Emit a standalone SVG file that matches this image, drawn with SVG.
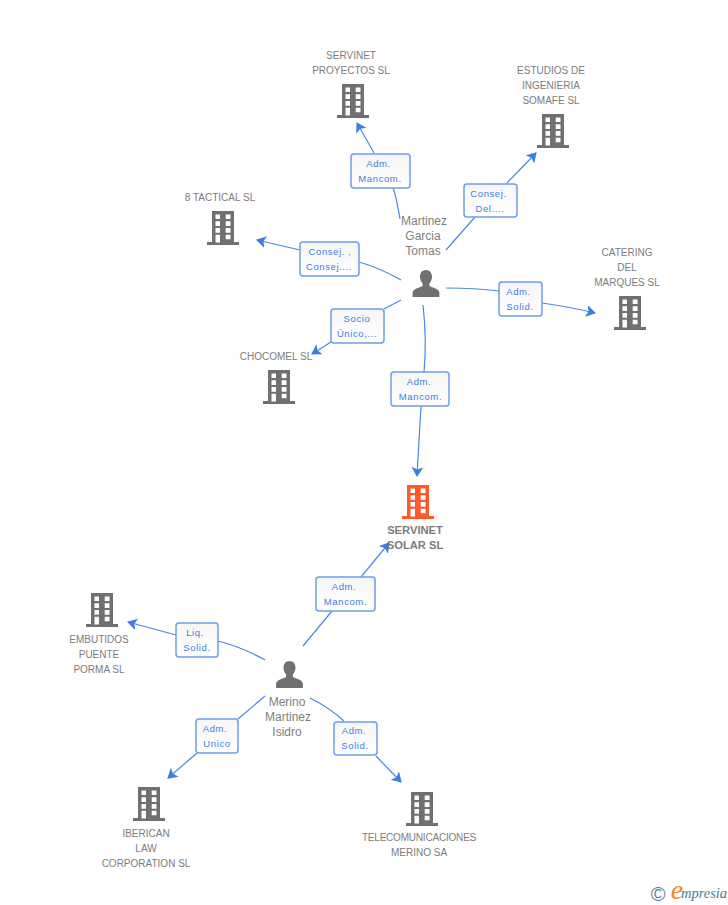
<svg xmlns="http://www.w3.org/2000/svg" width="728" height="905" viewBox="0 0 728 905">
<style>
text{font-family:"Liberation Sans",Arial,sans-serif;text-anchor:middle}
.n{font-size:10px;fill:#7c7c7c}
.b{font-size:11.200px;fill:#7c7c7c;font-weight:bold}
.p{font-size:12px;fill:#808080}
.l{font-size:9.500px;fill:#3b7de0;letter-spacing:.6px}
.box{fill:url(#g);stroke:#6d9eea;stroke-width:1.5}
.c{fill:none;stroke:#4a88e4;stroke-width:1.2}
</style>
<defs>
<linearGradient id="g" x1="0" y1="0" x2="0" y2="1"><stop offset="0" stop-color="#f6f6f6"/><stop offset="1" stop-color="#fff"/></linearGradient>
<marker id="a" viewBox="0 0 10 12" refX="9" refY="6" markerWidth="10" markerHeight="12" markerUnits="userSpaceOnUse" orient="auto"><path d="M0 0L10 6L0 12L2.500 6Z" fill="#3d7fe0"/></marker>
<symbol id="bld" viewBox="-16 0 32 34" width="32" height="34" overflow="visible">
<path fill-rule="evenodd" d="M-11 0H11V31H16V34H-16V31H-11ZM-7.500 3.500V8H-3V3.500ZM2.700 3.500V8H7.500V3.500ZM-7.500 10.300V15H-3V10.300ZM2.700 10.300V15H7.500V10.300ZM-7.500 17V21.700H-3V17ZM2.700 17V21.700H7.500V17ZM-7.500 23.700V31.500H-3V23.700ZM2.700 23.700V28.300H7.500V23.700Z"/>
</symbol>
<symbol id="per" viewBox="-14 0 28 27" width="28" height="27" overflow="visible">
<path fill="#707070" d="M0 0C3.600 0 6 2.800 6 6.500C6 9.500 4.800 12 3.400 13.600V16C6 17.600 13.400 18.600 13.400 23V27H-13.400V23C-13.400 18.600 -6 17.600 -3.400 16V13.600C-4.800 12 -6 9.500 -6 6.500C-6 2.800 -3.600 0 0 0Z"/>
</symbol>
</defs>
<rect width="728" height="905" fill="#fff"/>
<g id="connectors">
<path class="c" d="M400 219Q396 195 393 188"/><path class="c" marker-end="url(#a)" d="M374 153L357 123"/>
<path class="c" d="M446 250L475 217"/><path class="c" marker-end="url(#a)" d="M507 183L536 153"/>
<path class="c" d="M401 280Q380 268 359 262"/><path class="c" marker-end="url(#a)" d="M300 250L257 240"/>
<path class="c" d="M446 288Q475 288 499 291"/><path class="c" marker-end="url(#a)" d="M542 303Q570 307 595 313"/>
<path class="c" d="M401 300L384 309"/><path class="c" marker-end="url(#a)" d="M331 342L312 354"/>
<path class="c" d="M423 305Q427 340 424 372"/><path class="c" marker-end="url(#a)" d="M421 406L417 476"/>
<path class="c" d="M303 646L332 611"/><path class="c" marker-end="url(#a)" d="M361 577L389 543"/>
<path class="c" d="M265 660Q242 647 218 641"/><path class="c" marker-end="url(#a)" d="M176 635L128 622"/>
<path class="c" d="M265 696L238 719"/><path class="c" marker-end="url(#a)" d="M197 753L168 778"/>
<path class="c" d="M310 698Q330 708 344 721"/><path class="c" marker-end="url(#a)" d="M376 756L401 782"/>
</g>
<g id="servinet-proyectos"><use href="#bld" x="337" y="84" fill="#707070"/><text class="n" x="351" y="59">SERVINET</text><text class="n" x="351" y="74">PROYECTOS SL</text></g>
<g id="estudios"><use href="#bld" x="537" y="114" fill="#707070"/><text class="n" x="551" y="74">ESTUDIOS DE</text><text class="n" x="551" y="89">INGENIERIA</text><text class="n" x="551" y="104">SOMAFE SL</text></g>
<g id="tactical"><use href="#bld" x="207" y="211" fill="#707070"/><text class="n" x="220" y="201">8 TACTICAL SL</text></g>
<g id="catering"><use href="#bld" x="614" y="296" fill="#707070"/><text class="n" x="627" y="256">CATERING</text><text class="n" x="627" y="271">DEL</text><text class="n" x="627" y="286">MARQUES SL</text></g>
<g id="chocomel"><use href="#bld" x="263" y="370" fill="#707070"/><text class="n" x="276" y="360">CHOCOMEL SL</text></g>
<g id="servinet-solar"><use href="#bld" x="402" y="485" fill="#ff5a2c"/><text class="b" x="415" y="534">SERVINET</text><text class="b" x="415" y="549">SOLAR SL</text></g>
<g id="embutidos"><use href="#bld" x="86" y="593" fill="#707070"/><text class="n" x="99" y="643">EMBUTIDOS</text><text class="n" x="99" y="658">PUENTE</text><text class="n" x="99" y="673">PORMA SL</text></g>
<g id="iberican"><use href="#bld" x="133" y="787" fill="#707070"/><text class="n" x="146" y="837">IBERICAN</text><text class="n" x="146" y="852">LAW</text><text class="n" x="146" y="867">CORPORATION SL</text></g>
<g id="telecom"><use href="#bld" x="406" y="792" fill="#707070"/><text class="n" x="419" y="841" style="letter-spacing:-.2px">TELECOMUNICACIONES</text><text class="n" x="419" y="856">MERINO SA</text></g>
<g id="martinez"><use href="#per" x="412" y="270"/><text class="p" x="424" y="225">Martinez</text><text class="p" x="423" y="240">Garcia</text><text class="p" x="423" y="255">Tomas</text></g>
<g id="merino"><use href="#per" x="275.500" y="661"/><text class="p" x="287" y="706">Merino</text><text class="p" x="288" y="721">Martinez</text><text class="p" x="287" y="736">Isidro</text></g>
<g id="box1"><rect class="box" x="351" y="154" width="59" height="34" rx="3"/><text class="l" x="378.500" y="167">Adm.</text><text class="l" x="380" y="182">Mancom.</text></g>
<g id="box2"><rect class="box" x="464" y="184" width="53" height="33" rx="3"/><text class="l" x="488.500" y="197">Consej.</text><text class="l" x="490" y="212">Del....</text></g>
<g id="box3"><rect class="box" x="300" y="242" width="59" height="34" rx="3"/><text class="l" x="330" y="255">Consej. ,</text><text class="l" x="329" y="270">Consej....</text></g>
<g id="box4"><rect class="box" x="499" y="282" width="43" height="34" rx="3"/><text class="l" x="518.500" y="295">Adm.</text><text class="l" x="520" y="310">Solid.</text></g>
<g id="box5"><rect class="box" x="331" y="309" width="53" height="34" rx="3"/><text class="l" x="357" y="322">Socio</text><text class="l" x="357" y="337">Único,...</text></g>
<g id="box6"><rect class="box" x="391" y="372" width="58" height="34" rx="3"/><text class="l" x="419" y="385">Adm.</text><text class="l" x="420.500" y="400">Mancom.</text></g>
<g id="box7"><rect class="box" x="316" y="577" width="59" height="34" rx="3"/><text class="l" x="344" y="590">Adm.</text><text class="l" x="345.500" y="605">Mancom.</text></g>
<g id="box8"><rect class="box" x="176" y="623" width="42" height="34" rx="3"/><text class="l" x="195" y="636">Liq.</text><text class="l" x="197" y="651">Solid.</text></g>
<g id="box9"><rect class="box" x="196" y="719" width="42" height="34" rx="3"/><text class="l" x="215" y="732">Adm.</text><text class="l" x="217" y="747">Unico</text></g>
<g id="box10"><rect class="box" x="334" y="722" width="43" height="33" rx="3"/><text class="l" x="354" y="734">Adm.</text><text class="l" x="355" y="749">Solid.</text></g>
<g id="logo"><text x="658" y="901" style="font-size:20px;fill:#4a8296">©</text><text x="677" y="899" style="font-family:'Liberation Serif',serif;font-style:italic;font-size:28px;fill:#f28a1e">e</text><text x="704" y="898" style="font-family:'Liberation Serif',serif;font-style:italic;font-size:14.500px;fill:#3f7f92">mpresia</text></g>
</svg>
